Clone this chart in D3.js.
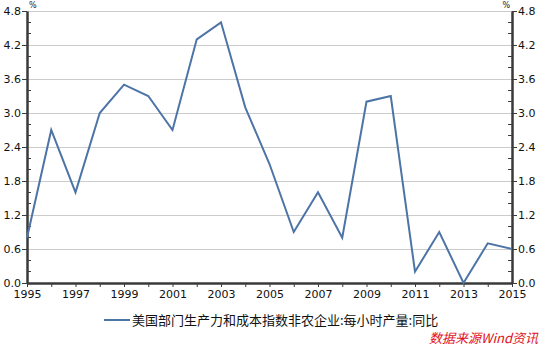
<!DOCTYPE html>
<html><head><meta charset="utf-8">
<script src="https://cdn.jsdelivr.net/npm/d3@7"></script>
<style>body{margin:0;background:#fff;}svg{display:block;}</style>
</head><body>
<script>
const years = [1995,1996,1997,1998,1999,2000,2001,2002,2003,2004,2005,2006,2007,2008,2009,2010,2011,2012,2013,2014,2015];
const values = [0.8,2.7,1.6,3.0,3.5,3.3,2.7,4.3,4.6,3.1,2.1,0.9,1.6,0.8,3.2,3.3,0.2,0.9,0.0,0.7,0.6];
const yTicks = [0.0,0.6,1.2,1.8,2.4,3.0,3.6,4.2,4.8];
const xLabelYears = [1995,1997,1999,2001,2003,2005,2007,2009,2011,2013,2015];
const seriesName = "美国部门生产力和成本指数非农企业:每小时产量:同比";
const sourceText = "数据来源Wind资讯";
const unit = "%";

const W = 542, H = 348;
const m = {l: 27, r: 30, t: 11, b: 65};
const svg = d3.select("body").append("svg").attr("width", W).attr("height", H);
const x = d3.scaleLinear().domain([1995, 2015]).range([m.l, W - m.r]);
const y = d3.scaleLinear().domain([0, 4.8]).range([H - m.b, m.t]);
const font = "'DejaVu Sans', Verdana, sans-serif";
const axisColor = "#3a3a3a";

// grid
svg.append("g").selectAll("line").data(yTicks.filter(d => d > 0)).join("line")
  .attr("x1", x(1995)).attr("x2", x(2015))
  .attr("y1", d => y(d)).attr("y2", d => y(d))
  .attr("stroke", "#cccccc").attr("stroke-width", 1).attr("shape-rendering", "crispEdges");

// minor ticks
const minor = d3.range(0, 4.81, 0.2).map(v => Math.round(v * 10) / 10).filter(v => !yTicks.some(t => Math.abs(t - v) < 1e-6));
function styleAxis(g) {
  g.selectAll(".domain").attr("stroke", axisColor).attr("stroke-width", 2.5);
  g.selectAll(".tick line").attr("stroke", axisColor).attr("stroke-width", 1);
  g.selectAll(".tick text").attr("fill", "#111").style("font-family", font).style("font-size", "11px");
}
const gl = svg.append("g").attr("transform", `translate(${x(1995)},0)`)
  .call(d3.axisLeft(y).tickValues(yTicks).tickFormat(d3.format(".1f")).tickSizeInner(5).tickSizeOuter(0).tickPadding(1));
styleAxis(gl);
const gr = svg.append("g").attr("transform", `translate(${x(2015)},0)`)
  .call(d3.axisRight(y).tickValues(yTicks).tickFormat(d3.format(".1f")).tickSizeInner(5).tickSizeOuter(0).tickPadding(1));
styleAxis(gr);
svg.append("g").selectAll("line").data(minor).join("line")
  .attr("x1", x(1995)).attr("x2", x(1995) + 4).attr("y1", d => y(d)).attr("y2", d => y(d))
  .attr("stroke", axisColor).attr("shape-rendering", "crispEdges");
svg.append("g").selectAll("line").data(minor).join("line")
  .attr("x1", x(2015)).attr("x2", x(2015) - 4).attr("y1", d => y(d)).attr("y2", d => y(d))
  .attr("stroke", axisColor).attr("shape-rendering", "crispEdges");

const gb = svg.append("g").attr("transform", `translate(0,${y(0)})`)
  .call(d3.axisBottom(x).tickValues(years).tickSizeInner(4).tickSizeOuter(0).tickPadding(3)
    .tickFormat(d => xLabelYears.includes(d) ? String(d) : ""));
styleAxis(gb);

// unit labels
svg.append("text").attr("x", x(1995) + 2).attr("y", 8).text(unit)
  .style("font-family", font).style("font-size", "8px").attr("fill", "#222");
svg.append("text").attr("x", x(2015) - 2).attr("y", 8).attr("text-anchor", "end").text(unit)
  .style("font-family", font).style("font-size", "8px").attr("fill", "#222");

// line
const line = d3.line().x((d, i) => x(years[i])).y(d => y(d));
svg.append("path").datum(values).attr("d", line)
  .attr("fill", "none").attr("stroke", "#4d74a6").attr("stroke-width", 2).attr("stroke-linejoin", "miter");

// legend
svg.append("line").attr("x1", 104).attr("x2", 130).attr("y1", 320).attr("y2", 320)
  .attr("stroke", "#4d74a6").attr("stroke-width", 2);
svg.append("text").attr("x", 132).attr("y", 324.5).text(seriesName)
  .style("font-family", "'Noto Sans CJK SC', sans-serif").style("font-size", "13px").attr("fill", "#111");

// source
svg.append("text").attr("x", 538).attr("y", 343).attr("text-anchor", "end").text(sourceText)
  .style("font-family", "'Noto Sans CJK SC', sans-serif").style("font-size", "13px")
  .style("font-style", "italic").attr("fill", "#e0101a");
</script>
</body></html>
